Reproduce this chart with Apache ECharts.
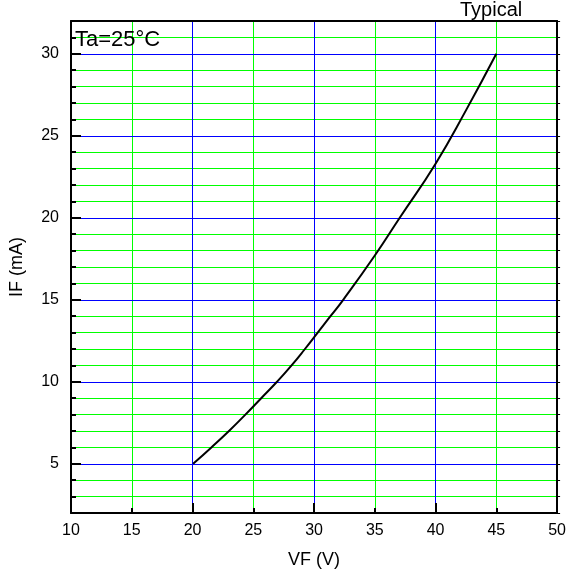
<!DOCTYPE html>
<html>
<head>
<meta charset="utf-8">
<script src="https://cdn.jsdelivr.net/npm/echarts@6/dist/echarts.min.js"></script>
<style>
  html, body { margin: 0; padding: 0; background: #fff; }
  #chart { width: 569px; height: 575px; }
</style>
</head>
<body>
<div id="chart"></div>
<script>
// forward curve
let vfValues = [20.05, 21.55, 23.0, 24.35, 25.65, 26.95, 28.15, 29.25, 30.3, 31.35, 32.4, 35, 37.05, 40, 42.5, 45];
let ifValues = [5, 6, 7, 8, 9, 10, 11, 12, 13, 14, 15, 17.7, 20, 23.3, 26.55, 30];

// grid lines
let greenVF = [15, 25, 35, 45];
let blueVF = [20, 30, 40];
let greenIF = [3, 4, 6, 7, 8, 9, 11, 12, 13, 14, 16, 17, 18, 19, 21, 22, 23, 24, 26, 27, 28, 29, 31];
let blueIF = [5, 10, 15, 20, 25, 30];
let majorIFTicks = [5, 10, 15, 20, 25, 30];

const FONT = "'Liberation Sans', Arial, sans-serif";
const GREEN = '#00ff00';
const BLUE = '#0000ff';

let curve = vfValues.map((v, i) => [v, ifValues[i]]);

function gridLines(xs, ys, color, z) {
    return {
        type: 'line', data: [], z: z, silent: true,
        markLine: {
            silent: true, symbol: ['none', 'none'], animation: false,
            label: {show: false},
            lineStyle: {color: color, width: 1, type: 'solid', opacity: 1},
            emphasis: {disabled: true},
            data: ys.map(v => ({yAxis: v})).concat(xs.map(v => ({xAxis: v})))
        }
    };
}

let chart = echarts.init(document.getElementById('chart'), null, {renderer: 'canvas'});

let option = {
    animation: false,
    backgroundColor: '#fff',
    grid: {left: 69, right: 11, top: 21, bottom: 62},
    xAxis: [
        {
            type: 'value', position: 'bottom', min: 10, max: 50, interval: 5, z: 5,
            name: 'VF (V)', nameLocation: 'middle', nameGap: 38,
            nameTextStyle: {fontFamily: FONT, fontSize: 18, color: '#000'},
            axisLine: {show: true, lineStyle: {color: '#000', width: 2}},
            axisTick: {show: true, inside: true, length: 5, lineStyle: {color: '#000', width: 2}},
            axisLabel: {fontFamily: FONT, fontSize: 16, color: '#000', margin: 10},
            splitLine: {show: false}
        },
        {
            type: 'value', position: 'bottom', min: 10, max: 50, interval: 10, z: 5,
            axisLine: {show: false},
            axisTick: {show: true, inside: true, length: 10, lineStyle: {color: '#000', width: 2}},
            axisLabel: {show: false},
            splitLine: {show: false}
        },
        {
            type: 'value', position: 'top', min: 10, max: 50, interval: 5, z: 5,
            axisLine: {show: true, lineStyle: {color: '#000', width: 2}},
            axisTick: {show: false},
            axisLabel: {show: false},
            splitLine: {show: false}
        }
    ],
    yAxis: [
        {
            type: 'value', position: 'left', min: 2, max: 32, interval: 1, z: 5,
            name: 'IF (mA)', nameLocation: 'middle', nameGap: 45, nameRotate: 90,
            nameTextStyle: {fontFamily: FONT, fontSize: 18, color: '#000'},
            axisLine: {show: true, lineStyle: {color: '#000', width: 2}},
            axisTick: {show: true, inside: true, length: 5, lineStyle: {color: '#000', width: 2}},
            axisLabel: {
                fontFamily: FONT, fontSize: 16, color: '#000', margin: 12,
                formatter: v => (v % 5 === 0 ? String(v) : '')
            },
            splitLine: {show: false}
        },
        {
            type: 'value', position: 'left', min: 2, max: 32, z: 5,
            axisLine: {show: false},
            axisTick: {show: true, inside: true, length: 10, customValues: majorIFTicks,
                lineStyle: {color: '#000', width: 2}},
            axisLabel: {show: false},
            splitLine: {show: false}
        },
        {
            type: 'value', position: 'right', min: 2, max: 32, interval: 1, z: 5,
            axisLine: {show: true, lineStyle: {color: '#000', width: 2}},
            axisTick: {show: true, inside: false, length: 3, lineStyle: {color: '#000', width: 1}},
            axisLabel: {show: false},
            splitLine: {show: false}
        }
    ],
    series: [
        gridLines(greenVF, greenIF, GREEN, 1),
        gridLines(blueVF, blueIF, BLUE, 2),
        {
            type: 'line', data: curve, z: 8,
            smooth: true, showSymbol: false, symbol: 'none',
            lineStyle: {color: '#000', width: 2}
        }
    ],
    graphic: [
        {type: 'text', left: 75, top: 29, z: 10,
            style: {text: 'Ta=25°C', font: '22px ' + FONT, fill: '#000'}},
        {type: 'text', left: 460, top: 0, z: 10,
            style: {text: 'Typical', font: '20px ' + FONT, fill: '#000'}}
    ]
};

chart.setOption(option);
</script>
</body>
</html>
